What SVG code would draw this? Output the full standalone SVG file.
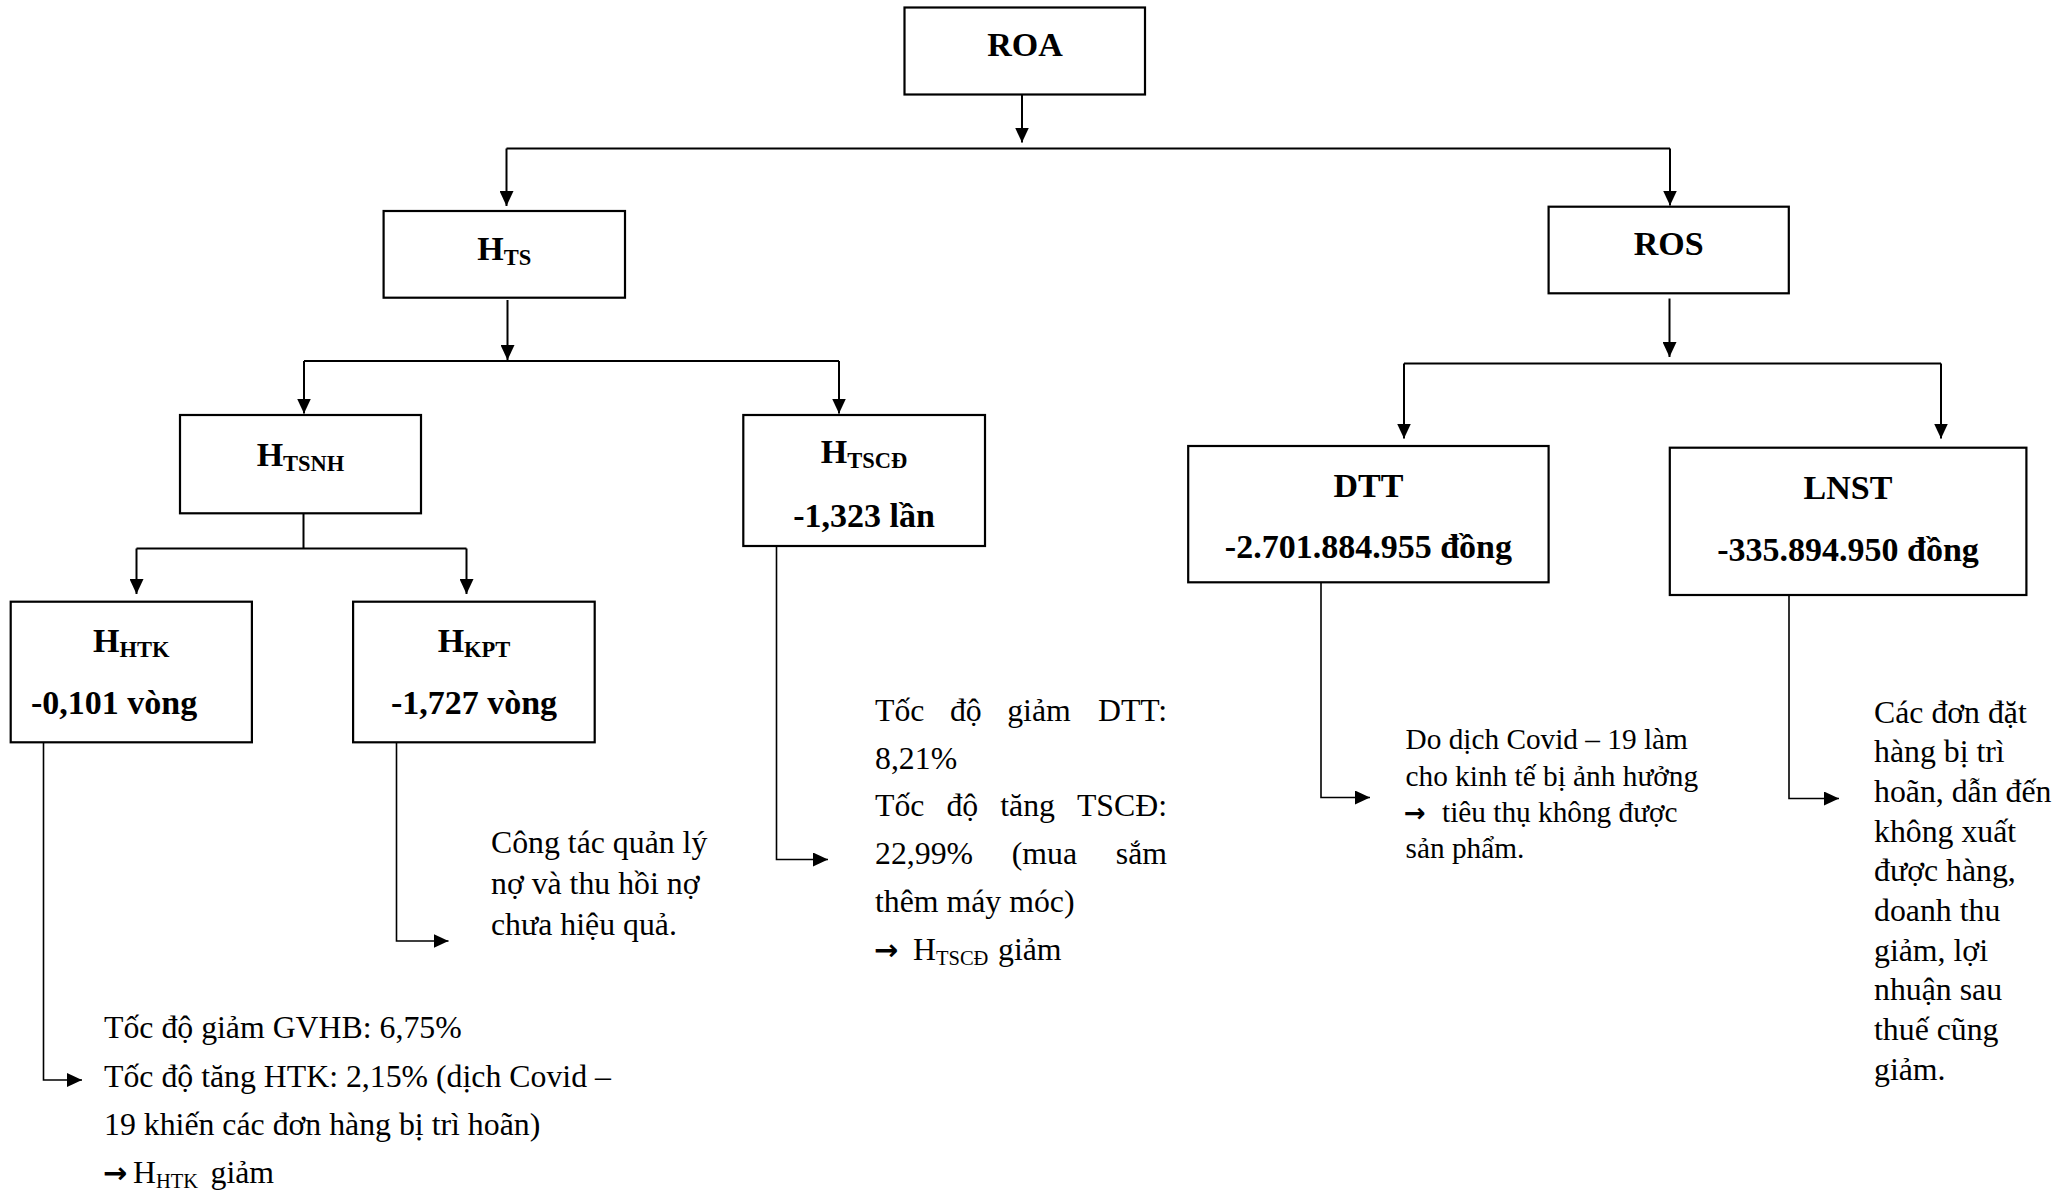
<svg xmlns="http://www.w3.org/2000/svg" width="2071" height="1192" viewBox="0 0 2071 1192">
<style>
.box{fill:#fff;stroke:#000;stroke-width:2.2}
.t{font-family:"Liberation Serif","Times New Roman",serif;fill:#000}
.b{font-weight:bold;font-size:34px}
.sb{font-size:22.5px}
.body{font-size:31.8px}
.sr{font-size:20.5px}
.dtt{font-size:29.3px}
.arr{font-family:"DejaVu Sans",sans-serif;font-weight:bold;font-size:29px}
.conn{stroke:#000;stroke-width:2;fill:none}
.lead{stroke:#000;stroke-width:1.6;fill:none}
</style>
<defs>
<marker id="ah" markerUnits="userSpaceOnUse" markerWidth="15" markerHeight="14" viewBox="0 0 15 14" refX="15" refY="7" orient="auto">
<path d="M0,0 L15,7 L0,14 z" fill="#000"/>
</marker>
</defs>
<rect width="2071" height="1192" fill="#fff"/>

<g id="connectors">
<path class="conn" d="M1022,95 V142.5" marker-end="url(#ah)"/>
<path class="conn" d="M506.5,148.5 H1670"/>
<path class="conn" d="M506.5,148.5 V206" marker-end="url(#ah)"/>
<path class="conn" d="M1670,148.5 V205.5" marker-end="url(#ah)"/>
<path class="conn" d="M507.5,300 V360" marker-end="url(#ah)"/>
<path class="conn" d="M304,361 H839"/>
<path class="conn" d="M304,361 V413.5" marker-end="url(#ah)"/>
<path class="conn" d="M839,361 V413.5" marker-end="url(#ah)"/>
<path class="conn" d="M303.5,514 V548.5"/>
<path class="conn" d="M136.5,548.5 H466.5"/>
<path class="conn" d="M136.5,548.5 V594" marker-end="url(#ah)"/>
<path class="conn" d="M466.5,548.5 V594" marker-end="url(#ah)"/>
<path class="conn" d="M1669.5,298.5 V357" marker-end="url(#ah)"/>
<path class="conn" d="M1404,363.5 H1941"/>
<path class="conn" d="M1404,363.5 V438.5" marker-end="url(#ah)"/>
<path class="conn" d="M1941,363.5 V438.5" marker-end="url(#ah)"/>
<path class="lead" d="M43.5,742 V1080 H82" marker-end="url(#ah)"/>
<path class="lead" d="M396.5,742 V941 H448.5" marker-end="url(#ah)"/>
<path class="lead" d="M776.5,546 V859.5 H828" marker-end="url(#ah)"/>
<path class="lead" d="M1321,582 V797.5 H1370" marker-end="url(#ah)"/>
<path class="lead" d="M1789,595 V798.5 H1839" marker-end="url(#ah)"/>
</g>

<g id="roa">
<rect class="box" x="904.5" y="7.5" width="240.5" height="87"/>
<text class="t b" x="1025" y="56" text-anchor="middle">ROA</text>
</g>

<g id="hts">
<rect class="box" x="383.6" y="211" width="241.4" height="86.7"/>
<text class="t b" x="504.3" y="260" text-anchor="middle">H<tspan class="sb" dy="5">TS</tspan></text>
</g>

<g id="ros">
<rect class="box" x="1548.6" y="206.7" width="240.2" height="86.6"/>
<text class="t b" x="1668.7" y="254.5" text-anchor="middle">ROS</text>
</g>

<g id="htsnh">
<rect class="box" x="180" y="415" width="241" height="98.3"/>
<text class="t b" x="300.5" y="466" text-anchor="middle">H<tspan class="sb" dy="5">TSNH</tspan></text>
</g>

<g id="htscd">
<rect class="box" x="743.3" y="415" width="241.7" height="131"/>
<text class="t b" x="864" y="463" text-anchor="middle">H<tspan class="sb" dy="5">TSCĐ</tspan></text>
<text class="t b" x="864" y="527" text-anchor="middle">-1,323 lần</text>
</g>

<g id="hhtk">
<rect class="box" x="10.7" y="601.7" width="241.2" height="140.6"/>
<text class="t b" x="131.3" y="652" text-anchor="middle">H<tspan class="sb" dy="5">HTK</tspan></text>
<text class="t b" x="31" y="714">-0,101 vòng</text>
</g>

<g id="hkpt">
<rect class="box" x="353.1" y="601.7" width="241.6" height="140.6"/>
<text class="t b" x="474" y="652" text-anchor="middle">H<tspan class="sb" dy="5">KPT</tspan></text>
<text class="t b" x="474" y="714" text-anchor="middle">-1,727 vòng</text>
</g>

<g id="dtt">
<rect class="box" x="1188.2" y="446" width="360.4" height="136.3"/>
<text class="t b" x="1368.4" y="497" text-anchor="middle">DTT</text>
<text class="t b" x="1368.4" y="558" text-anchor="middle">-2.701.884.955 đồng</text>
</g>

<g id="lnst">
<rect class="box" x="1669.8" y="447.7" width="356.6" height="147.3"/>
<text class="t b" x="1848" y="499" text-anchor="middle">LNST</text>
<text class="t b" x="1848" y="561" text-anchor="middle">-335.894.950 đồng</text>
</g>

<g id="note-htk" class="t body">
<text x="104" y="1038">Tốc độ giảm GVHB: 6,75%</text>
<text x="104" y="1087">Tốc độ tăng HTK: 2,15% (dịch Covid –</text>
<text x="104" y="1135">19 khiến các đơn hàng bị trì hoãn)</text>
<text y="1183"><tspan class="arr" x="103">→</tspan><tspan x="133">H</tspan><tspan class="sr" dy="5">HTK</tspan><tspan x="210.5" dy="-5">giảm</tspan></text>
</g>

<g id="note-kpt" class="t body">
<text x="491" y="853">Công tác quản lý</text>
<text x="491" y="894">nợ và thu hồi nợ</text>
<text x="491" y="934.5">chưa hiệu quả.</text>
</g>

<g id="note-tscd" class="t body">
<text y="721"><tspan x="875">Tốc</tspan><tspan x="949.9">độ</tspan><tspan x="1007.2">giảm</tspan></text>
<text x="1167" y="721" text-anchor="end">DTT:</text>
<text x="875" y="768.5">8,21%</text>
<text y="816"><tspan x="875">Tốc</tspan><tspan x="946.4">độ</tspan><tspan x="1000.2">tăng</tspan></text>
<text x="1167" y="816" text-anchor="end">TSCĐ:</text>
<text y="864"><tspan x="875">22,99%</tspan><tspan x="1011.7">(mua</tspan></text>
<text x="1167" y="864" text-anchor="end">sắm</text>
<text x="875" y="912">thêm máy móc)</text>
<text y="960"><tspan class="arr" x="874">→</tspan><tspan x="913">H</tspan><tspan class="sr" dy="5">TSCĐ</tspan><tspan x="998" dy="-5">giảm</tspan></text>
</g>

<g id="note-dtt" class="t dtt">
<text x="1405.5" y="749">Do dịch Covid – 19 làm</text>
<text x="1405.5" y="786">cho kinh tế bị ảnh hưởng</text>
<text y="822"><tspan class="arr" x="1404" style="font-size:26px">→</tspan><tspan x="1442">tiêu thụ không được</tspan></text>
<text x="1405.5" y="857.5">sản phẩm.</text>
</g>

<g id="note-lnst" class="t body">
<text x="1874" y="722.5">Các đơn đặt</text>
<text x="1874" y="762.2">hàng bị trì</text>
<text x="1874" y="801.9">hoãn, dẫn đến</text>
<text x="1874" y="841.6">không xuất</text>
<text x="1874" y="881.3">được hàng,</text>
<text x="1874" y="921">doanh thu</text>
<text x="1874" y="960.7">giảm, lợi</text>
<text x="1874" y="1000.4">nhuận sau</text>
<text x="1874" y="1040.1">thuế cũng</text>
<text x="1874" y="1079.8">giảm.</text>
</g>
</svg>
